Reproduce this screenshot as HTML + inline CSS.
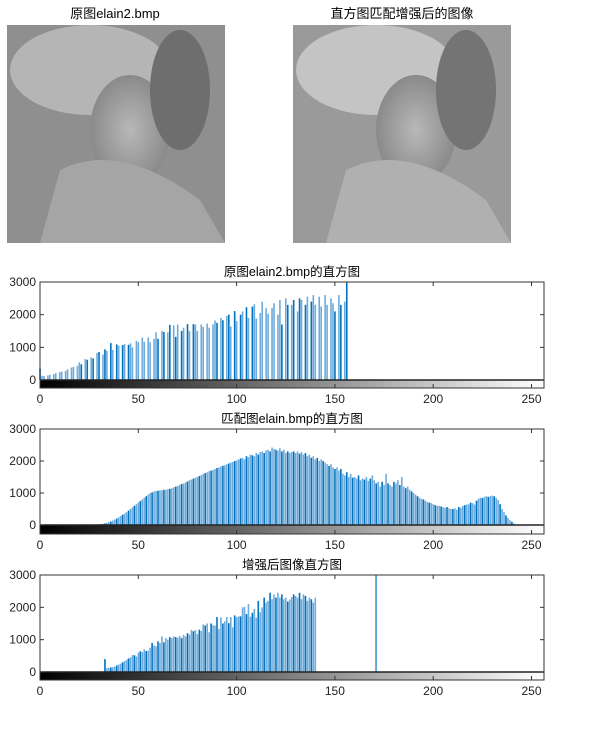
<!DOCTYPE html>
<html><head><meta charset="utf-8"><style>
body{margin:0;background:#fff;width:596px;height:725px;overflow:hidden;font-family:"Liberation Sans","Noto Sans CJK SC",sans-serif;}
svg text{font-family:"Liberation Sans","Noto Sans CJK SC",sans-serif;}
</style></head><body>
<svg id="fig" width="596" height="725" xmlns="http://www.w3.org/2000/svg">
<defs>
<linearGradient id="cb" x1="0" x2="1" y1="0" y2="0"><stop offset="0" stop-color="#000"/><stop offset="1" stop-color="#fff"/></linearGradient>
<radialGradient id="face" cx="0.5" cy="0.5" r="0.5"><stop offset="0" stop-color="#b8b8b8"/><stop offset="1" stop-color="#8a8a8a"/></radialGradient>
</defs>
<text x="115" y="18" font-size="13" text-anchor="middle">原图elain2.bmp</text>
<text x="402" y="18" font-size="13" text-anchor="middle">直方图匹配增强后的图像</text>
<g>
<rect x="7" y="25" width="218" height="218" fill="#8f8f8f"/>
<ellipse cx="90" cy="70" rx="80" ry="45" fill="#b5b5b5"/>
<ellipse cx="130" cy="130" rx="40" ry="55" fill="url(#face)"/>
<path d="M60 170 Q120 140 200 200 L225 243 L40 243 Z" fill="#a5a5a5"/>
<ellipse cx="180" cy="90" rx="30" ry="60" fill="#6e6e6e"/>
</g>
<g>
<rect x="293" y="25" width="218" height="218" fill="#9a9a9a"/>
<ellipse cx="376" cy="70" rx="80" ry="45" fill="#c4c4c4"/>
<ellipse cx="416" cy="130" rx="40" ry="55" fill="url(#face)"/>
<path d="M346 170 Q406 140 486 200 L511 243 L326 243 Z" fill="#b0b0b0"/>
<ellipse cx="466" cy="90" rx="30" ry="60" fill="#747474"/>
</g>
<g id="panels"></g>
</svg>
<script>
const xTicks=[0,50,100,150,200,250];
const yTicks=[0,1000,2000,3000];
const titles=["原图elain2.bmp的直方图","匹配图elain.bmp的直方图","增强后图像直方图"];
const start1=0;
const hist1=[350,130,120,0,140,160,0,180,210,0,240,260,0,280,330,0,380,400,0,430,540,480,0,640,620,0,690,660,0,830,860,0,780,940,890,0,1130,920,0,1090,1050,0,1070,1100,0,1080,1120,1000,0,1200,1160,0,1300,1170,0,1300,1160,0,1260,1460,1260,0,1500,1470,0,1460,1690,0,1670,1320,1700,0,1500,1600,0,1710,1500,0,1710,1700,1500,0,1700,1620,0,1730,1600,0,1700,1820,1750,0,1900,1830,0,1960,2000,1640,0,2110,1800,0,2000,2100,0,2230,1900,0,2250,2320,1880,0,2050,2400,0,2200,2030,0,2200,2350,0,2000,2450,1700,0,2500,2300,0,2300,2450,0,2100,2500,2450,0,2300,2550,0,2400,2600,2300,0,2550,2250,0,2600,2300,0,2500,2350,2100,0,2600,2300,0,2400,3600];
const start2=30;
const hist2=[20,30,40,50,70,90,110,140,170,200,
240,280,320,360,400,450,500,550,600,650,
700,750,800,850,900,950,1000,1020,1050,1060,
1070,1080,1090,1100,1100,1120,1130,1150,1180,1200,
1220,1250,1280,1300,1330,1360,1400,1420,1450,1480,
1500,1530,1560,1600,1620,1650,1680,1700,1720,1750,
1780,1800,1830,1850,1870,1900,1920,1950,1970,2000,
2020,2050,2080,2100,2050,2150,2120,2200,2180,2150,
2250,2200,2280,2300,2250,2330,2350,2300,2420,2380,
2350,2330,2400,2300,2350,2250,2300,2250,2280,2300,
2250,2300,2230,2280,2200,2250,2150,2200,2100,2150,
2050,2100,2000,2050,2000,1950,1900,1850,1900,1800,
1750,1800,1700,1750,1600,1550,1650,1500,1600,1480,
1500,1450,1550,1400,1450,1420,1500,1380,1450,1550,
1400,1300,1350,1200,1350,1250,1600,1300,1250,1200,
1350,1300,1400,1250,1500,1200,1150,1200,1100,1050,
1000,950,900,850,820,800,760,720,700,680,
650,620,600,600,580,560,540,560,520,500,
500,520,480,560,540,600,620,640,650,700,
680,640,760,820,860,840,880,900,880,900,
920,900,850,780,650,500,400,300,220,150,
100,50];
const start3=33;
const hist3=[400,120,130,140,150,170,200,230,260,300,340,380,420,450,520,520,480,600,640,620,700,650,660,750,900,820,800,950,900,1100,920,1050,1000,1080,1050,1100,1080,1060,1120,1050,1150,1100,1200,1160,1300,1260,1300,1170,1310,1270,1470,1440,1500,1230,1500,1450,1430,1700,1330,1690,1500,1570,1700,1510,1700,1380,1750,1700,1720,1720,2000,2010,1790,2100,1710,1830,1950,1680,2200,1850,2000,2300,2150,2200,2450,2250,2400,2300,2450,2300,2400,2250,2300,2180,2240,2320,2400,2350,2300,2450,2250,2400,2350,2200,2300,2250,2150,2300];
const spike3=[171,3600];
const panels=[
 {top:282,zero:380,bottom:388,data:hist1,start:start1,name:'original-histogram'},
 {top:429,zero:525,bottom:534,data:hist2,start:start2,name:'matched-histogram'},
 {top:575,zero:672,bottom:680,data:hist3,start:start3,name:'enhanced-histogram'}];
const NS='http://www.w3.org/2000/svg';
const X0=40,PX=1.966;
const g=document.getElementById('panels');
function mk(t,a,p){const e=document.createElementNS(NS,t);for(const k in a)e.setAttribute(k,a[k]);(p||g).appendChild(e);return e;}
panels.forEach((P,i)=>{
 const sx=v=>X0+v*PX;
 const sy=v=>P.zero-Math.min(v,3000)*(P.zero-P.top)/3000;
 const grp=mk('g',{});
 
 
 const t=mk('text',{x:292,y:P.top-6,'font-size':12.5,'text-anchor':'middle'},grp);t.textContent=titles[i];
 
 
 const cb=mk('rect',{x:X0,y:P.zero,width:504,height:P.bottom-P.zero,fill:'url(#cb)'},grp);
 
 
 const all=P.data.map((v,k)=>[P.start+k,v]);
 if(i===2)all.push(spike3);
 all.forEach(([b,v])=>{if(v<=0)return;
  const r=mk('rect',{x:sx(b)-0.75,y:sy(v),width:(i===2&&b===spike3[0])?1.2:1.6,height:P.zero-sy(v),fill:(b%3===0)?'#0072bd':'#6eabdc'},grp);
  
  });
 mk('line',{x1:X0,x2:544,y1:P.zero,y2:P.zero,stroke:'#222','stroke-width':1.5},grp);
 const box=mk('rect',{x:X0,y:P.top,width:504,height:P.bottom-P.top,fill:'none',stroke:'#333','stroke-width':1},grp);
 
 
 xTicks.forEach(v=>{mk('line',{x1:sx(v),x2:sx(v),y1:P.top,y2:P.top+4,stroke:'#333'},grp);mk('line',{x1:sx(v),x2:sx(v),y1:P.bottom,y2:P.bottom-4,stroke:'#333'},grp);
  const l=mk('text',{x:sx(v),y:P.bottom+15,'font-size':12,'text-anchor':'middle',fill:'#222'},grp);l.textContent=v;
  
  });
 yTicks.forEach(v=>{mk('line',{x1:X0,x2:X0+4,y1:sy(v),y2:sy(v),stroke:'#333'},grp);mk('line',{x1:544,x2:540,y1:sy(v),y2:sy(v),stroke:'#333'},grp);
  const l=mk('text',{x:36,y:sy(v)+4,'font-size':12,'text-anchor':'end',fill:'#222'},grp);l.textContent=v;
  
  });
});
</script>
</body></html>
